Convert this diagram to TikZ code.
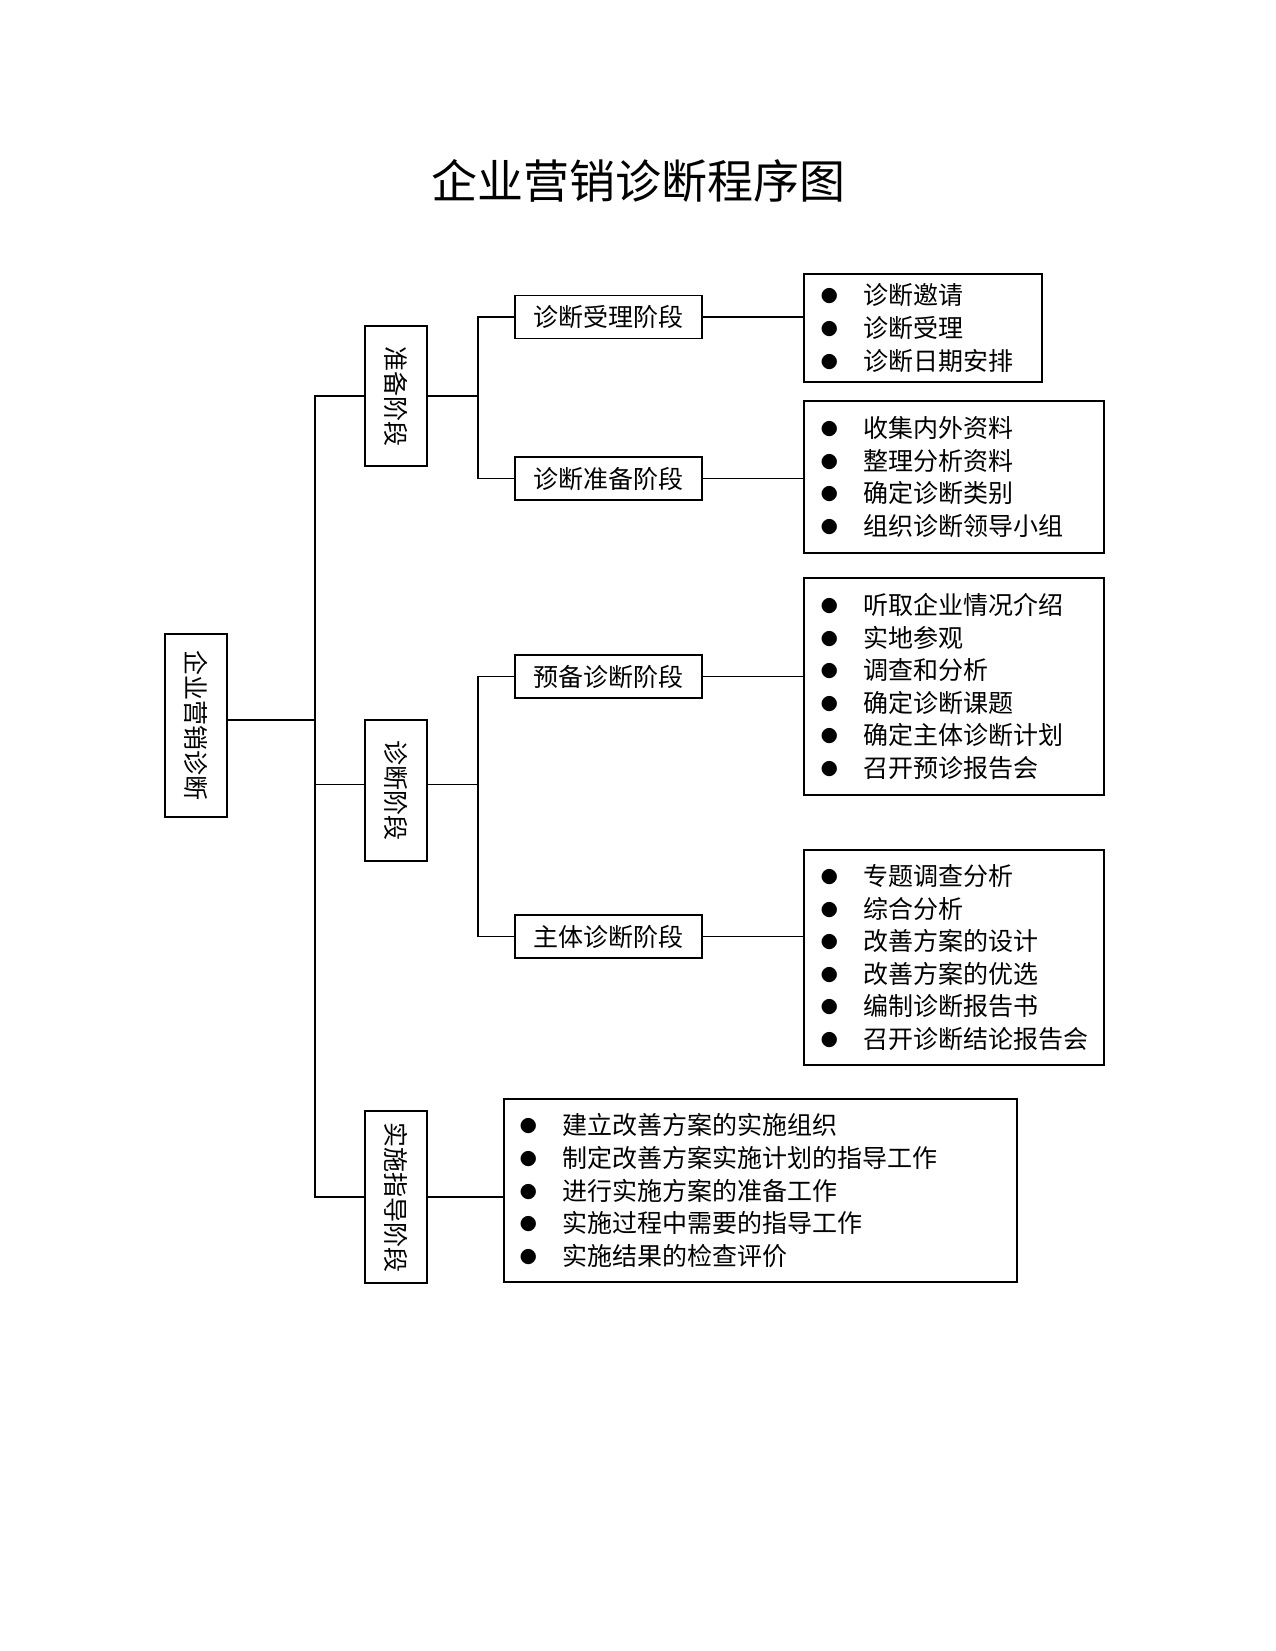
\documentclass[tikz,border=0pt]{standalone}
\usepackage{fontspec}
\setmainfont{Noto Sans CJK SC}
\newcommand\myitem[1]{\makebox[43pt][l]{\raisebox{2pt}{\fontsize{17}{17}\selectfont ●}}#1}
\begin{document}
\begin{tikzpicture}[x=1pt,y=-1pt,
  lw/.style={line width=1.8pt},
  vbox/.style={draw,lw,rotate=-90,minimum height=62pt,inner sep=0pt,font=\fontsize{25}{25}\selectfont},
  hbox/.style={draw,lw,minimum width=187pt,minimum height=43pt,inner sep=0pt,font=\fontsize{25}{25}\selectfont},
  lbox/.style={draw,lw,anchor=west,align=left,inner xsep=17pt,inner ysep=0pt,font=\fontsize{25}{32.6}\selectfont},
  conn/.style={lw}]
\useasboundingbox (0,0) rectangle (1276,1651);
\fill[white] (0,0) rectangle (1276,1651);
\node[font=\fontsize{46}{50}\selectfont] (title) at (638,181) {企业营销诊断程序图};
% root and level 1
\node[vbox,minimum width=183pt] (root) at (196,725.5) {企业营销诊断};
\node[vbox,minimum width=140pt] (zb) at (396,396) {准备阶段};
\node[vbox,minimum width=141pt] (zd) at (396,790.5) {诊断阶段};
\node[vbox,minimum width=172pt] (ss) at (396,1197) {实施指导阶段};
% level 2
\node[hbox] (sl) at (608.5,317) {诊断受理阶段};
\node[hbox] (zbj) at (608.5,478.5) {诊断准备阶段};
\node[hbox] (yb) at (608.5,676.5) {预备诊断阶段};
\node[hbox] (zt) at (608.5,936.5) {主体诊断阶段};
% lists
\node[lbox,text width=204pt,minimum height=108pt] (l1) at (803,328) {\myitem{诊断邀请}\\\myitem{诊断受理}\\\myitem{诊断日期安排}};
\node[lbox,text width=266pt,minimum height=152pt] (l2) at (803,477) {\myitem{收集内外资料}\\\myitem{整理分析资料}\\\myitem{确定诊断类别}\\\myitem{组织诊断领导小组}};
\node[lbox,text width=266pt,minimum height=217pt] (l3) at (803,686.5) {\myitem{听取企业情况介绍}\\\myitem{实地参观}\\\myitem{调查和分析}\\\myitem{确定诊断课题}\\\myitem{确定主体诊断计划}\\\myitem{召开预诊报告会}};
\node[lbox,text width=266pt,minimum height=215pt] (l4) at (803,957.5) {\myitem{专题调查分析}\\\myitem{综合分析}\\\myitem{改善方案的设计}\\\myitem{改善方案的优选}\\\myitem{编制诊断报告书}\\\myitem{召开诊断结论报告会}};
\node[lbox,inner xsep=16pt,text width=481pt,minimum height=183pt] (l5) at (503,1190.5) {\myitem{建立改善方案的实施组织}\\\myitem{制定改善方案实施计划的指导工作}\\\myitem{进行实施方案的准备工作}\\\myitem{实施过程中需要的指导工作}\\\myitem{实施结果的检查评价}};
% connectors
\coordinate (m) at (315,720);
\coordinate (d) at (315,784.5);
\coordinate (j1) at (478,396);
\coordinate (j2) at (478,784.5);
\draw[conn] (m -| root.north) -- (m);
\draw[conn] (zb.south) -| (m) |- (ss.south);
\draw[conn] (d -| zd.south) -- (d);
\draw[conn] (zb.north) -- (j1);
\draw[conn] (sl.west) -| (j1) |- (zbj.west);
\draw[conn] (j2 -| zd.north) -- (j2);
\draw[conn] (yb.west) -| (j2) |- (zt.west);
\draw[conn] (sl.east) -- (sl.east -| l1.west);
\draw[conn] (zbj.east) -- (zbj.east -| l2.west);
\draw[conn] (yb.east) -- (yb.east -| l3.west);
\draw[conn] (zt.east) -- (zt.east -| l4.west);
\draw[conn] (ss.north) -- (ss.north -| l5.west);
\end{tikzpicture}
\end{document}
